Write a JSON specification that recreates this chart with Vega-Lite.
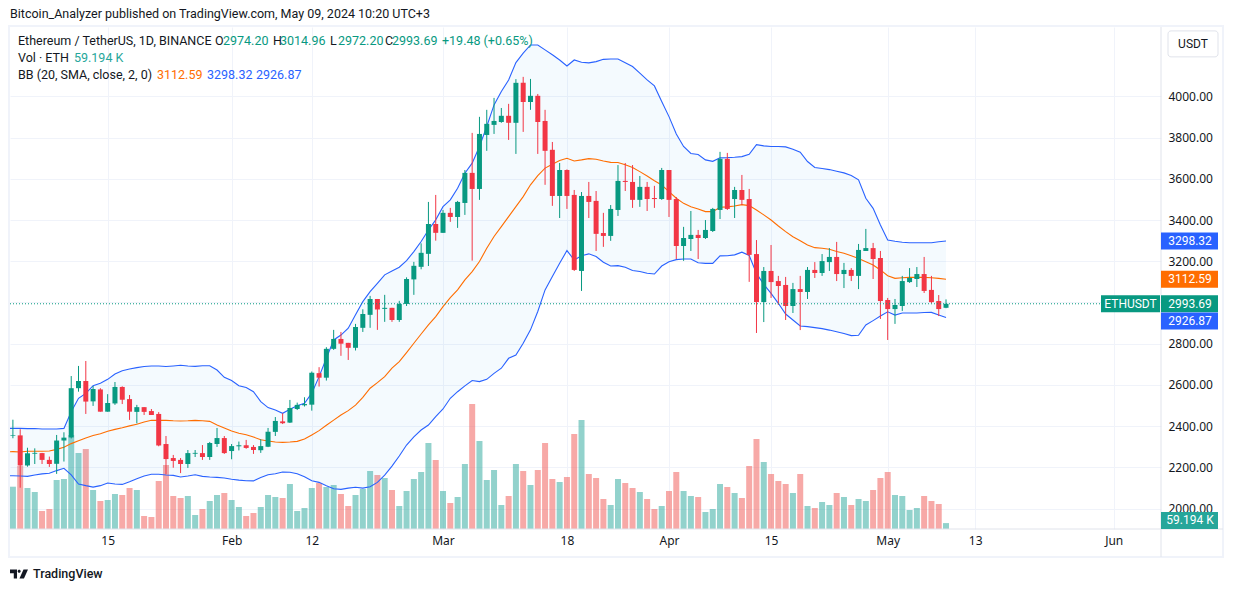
{"$schema":"https://vega.github.io/schema/vega-lite/v6.json","width":1151,"height":502,"autosize":{"type":"none"},"padding":{"left":10,"top":27,"right":72,"bottom":63},"background":"#ffffff","config":{"view":{"stroke":null},"font":"Roboto","text":{"font":"Roboto"},"scale":{"continuousPadding":0}},
"datasets":{"days":[
{"d":"2024-01-01","u":2389,"m":2275,"b":2160},
{"d":"2024-01-02","o":2352,"h":2431,"l":2341,"c":2355,"v":423,"u":2389,"m":2276,"b":2159},
{"d":"2024-01-03","o":2355,"h":2385,"l":2101,"c":2209,"v":630,"u":2389,"m":2274,"b":2158},
{"d":"2024-01-04","o":2209,"h":2295,"l":2203,"c":2268,"v":410,"u":2388,"m":2278,"b":2156},
{"d":"2024-01-05","o":2266,"h":2292,"l":2216,"c":2270,"v":370,"u":2388,"m":2278,"b":2163},
{"d":"2024-01-06","o":2269,"h":2270,"l":2216,"c":2236,"v":180,"u":2386,"m":2278,"b":2168},
{"d":"2024-01-07","o":2236,"h":2252,"l":2202,"c":2216,"v":200,"u":2386,"m":2279,"b":2171},
{"d":"2024-01-08","o":2217,"h":2357,"l":2168,"c":2330,"v":490,"u":2386,"m":2287,"b":2184},
{"d":"2024-01-09","o":2330,"h":2370,"l":2228,"c":2344,"v":500,"u":2389,"m":2297,"b":2195},
{"d":"2024-01-10","o":2345,"h":2643,"l":2340,"c":2584,"v":940,"u":2470,"m":2315,"b":2163},
{"d":"2024-01-11","o":2584,"h":2692,"l":2567,"c":2619,"v":760,"u":2535,"m":2329,"b":2119},
{"d":"2024-01-12","o":2619,"h":2716,"l":2459,"c":2519,"v":800,"u":2559,"m":2342,"b":2111},
{"d":"2024-01-13","o":2520,"h":2595,"l":2498,"c":2580,"v":390,"u":2596,"m":2354,"b":2104},
{"d":"2024-01-14","o":2578,"h":2584,"l":2470,"c":2470,"v":280,"u":2608,"m":2363,"b":2111},
{"d":"2024-01-15","o":2470,"h":2555,"l":2470,"c":2512,"v":290,"u":2627,"m":2375,"b":2124},
{"d":"2024-01-16","o":2510,"h":2614,"l":2503,"c":2590,"v":350,"u":2653,"m":2384,"b":2119},
{"d":"2024-01-17","o":2590,"h":2593,"l":2507,"c":2528,"v":340,"u":2669,"m":2392,"b":2117},
{"d":"2024-01-18","o":2531,"h":2551,"l":2430,"c":2470,"v":410,"u":2677,"m":2401,"b":2130},
{"d":"2024-01-19","o":2469,"h":2503,"l":2413,"c":2492,"v":390,"u":2684,"m":2409,"b":2145},
{"d":"2024-01-20","o":2492,"h":2492,"l":2454,"c":2469,"v":130,"u":2689,"m":2420,"b":2158},
{"d":"2024-01-21","o":2473,"h":2483,"l":2454,"c":2454,"v":120,"u":2692,"m":2428,"b":2166},
{"d":"2024-01-22","o":2459,"h":2468,"l":2302,"c":2306,"v":480,"u":2692,"m":2428,"b":2166},
{"d":"2024-01-23","o":2313,"h":2352,"l":2166,"c":2240,"v":640,"u":2689,"m":2428,"b":2163},
{"d":"2024-01-24","o":2245,"h":2260,"l":2198,"c":2231,"v":330,"u":2692,"m":2426,"b":2161},
{"d":"2024-01-25","o":2236,"h":2245,"l":2172,"c":2216,"v":310,"u":2695,"m":2425,"b":2153},
{"d":"2024-01-26","o":2216,"h":2284,"l":2197,"c":2269,"v":330,"u":2692,"m":2426,"b":2158},
{"d":"2024-01-27","o":2266,"h":2284,"l":2250,"c":2270,"v":140,"u":2690,"m":2428,"b":2164},
{"d":"2024-01-28","o":2269,"h":2308,"l":2236,"c":2250,"v":200,"u":2693,"m":2426,"b":2156},
{"d":"2024-01-29","o":2250,"h":2323,"l":2236,"c":2318,"v":280,"u":2693,"m":2423,"b":2153},
{"d":"2024-01-30","o":2313,"h":2391,"l":2299,"c":2342,"v":340,"u":2672,"m":2405,"b":2151},
{"d":"2024-01-31","o":2342,"h":2352,"l":2265,"c":2269,"v":360,"u":2637,"m":2391,"b":2148},
{"d":"2024-02-01","o":2279,"h":2313,"l":2239,"c":2303,"v":290,"u":2621,"m":2376,"b":2142},
{"d":"2024-02-02","o":2302,"h":2325,"l":2282,"c":2307,"v":220,"u":2596,"m":2365,"b":2138},
{"d":"2024-02-03","o":2307,"h":2333,"l":2290,"c":2294,"v":130,"u":2587,"m":2358,"b":2135},
{"d":"2024-02-04","o":2299,"h":2308,"l":2265,"c":2284,"v":160,"u":2567,"m":2347,"b":2134},
{"d":"2024-02-05","o":2283,"h":2336,"l":2270,"c":2303,"v":220,"u":2519,"m":2334,"b":2151},
{"d":"2024-02-06","o":2300,"h":2391,"l":2298,"c":2372,"v":340,"u":2490,"m":2328,"b":2164},
{"d":"2024-02-07","o":2372,"h":2444,"l":2352,"c":2425,"v":320,"u":2478,"m":2323,"b":2169},
{"d":"2024-02-08","o":2423,"h":2462,"l":2410,"c":2414,"v":310,"u":2462,"m":2321,"b":2177},
{"d":"2024-02-09","o":2417,"h":2527,"l":2415,"c":2488,"v":450,"u":2482,"m":2323,"b":2176},
{"d":"2024-02-10","o":2483,"h":2514,"l":2478,"c":2503,"v":180,"u":2499,"m":2326,"b":2169},
{"d":"2024-02-11","o":2501,"h":2540,"l":2495,"c":2507,"v":210,"u":2511,"m":2337,"b":2154},
{"d":"2024-02-12","o":2504,"h":2665,"l":2475,"c":2659,"v":410,"u":2560,"m":2357,"b":2135},
{"d":"2024-02-13","o":2657,"h":2686,"l":2592,"c":2635,"v":460,"u":2640,"m":2378,"b":2127},
{"d":"2024-02-14","o":2635,"h":2783,"l":2621,"c":2775,"v":420,"u":2729,"m":2404,"b":2111},
{"d":"2024-02-15","o":2775,"h":2867,"l":2770,"c":2823,"v":440,"u":2818,"m":2429,"b":2096},
{"d":"2024-02-16","o":2823,"h":2857,"l":2741,"c":2800,"v":350,"u":2842,"m":2454,"b":2093},
{"d":"2024-02-17","o":2804,"h":2804,"l":2721,"c":2780,"v":230,"u":2875,"m":2475,"b":2099},
{"d":"2024-02-18","o":2780,"h":2896,"l":2767,"c":2881,"v":340,"u":2940,"m":2502,"b":2103},
{"d":"2024-02-19","o":2877,"h":2967,"l":2857,"c":2944,"v":400,"u":3004,"m":2539,"b":2099},
{"d":"2024-02-20","o":2940,"h":3032,"l":2877,"c":3017,"v":580,"u":3053,"m":2584,"b":2106},
{"d":"2024-02-21","o":3017,"h":3017,"l":2867,"c":2966,"v":540,"u":3093,"m":2611,"b":2127},
{"d":"2024-02-22","o":2969,"h":3037,"l":2906,"c":2974,"v":510,"u":3134,"m":2640,"b":2162},
{"d":"2024-02-23","o":2974,"h":2974,"l":2906,"c":2915,"v":390,"u":3153,"m":2681,"b":2206},
{"d":"2024-02-24","o":2915,"h":3008,"l":2906,"c":2993,"v":230,"u":3171,"m":2713,"b":2255},
{"d":"2024-02-25","o":2993,"h":3122,"l":2983,"c":3114,"v":380,"u":3203,"m":2757,"b":2308},
{"d":"2024-02-26","o":3112,"h":3197,"l":3037,"c":3178,"v":500,"u":3247,"m":2802,"b":2348},
{"d":"2024-02-27","o":3173,"h":3287,"l":3161,"c":3241,"v":570,"u":3296,"m":2847,"b":2381},
{"d":"2024-02-28","o":3236,"h":3488,"l":3177,"c":3381,"v":860,"u":3352,"m":2891,"b":2405},
{"d":"2024-02-29","o":3381,"h":3522,"l":3300,"c":3338,"v":690,"u":3401,"m":2931,"b":2446},
{"d":"2024-03-01","o":3338,"h":3449,"l":3338,"c":3435,"v":380,"u":3465,"m":2980,"b":2483},
{"d":"2024-03-02","o":3435,"h":3459,"l":3391,"c":3415,"v":260,"u":3498,"m":3024,"b":2535},
{"d":"2024-03-03","o":3415,"h":3493,"l":3362,"c":3488,"v":320,"u":3554,"m":3061,"b":2567},
{"d":"2024-03-04","o":3483,"h":3643,"l":3425,"c":3629,"v":650,"u":3627,"m":3110,"b":2595},
{"d":"2024-03-05","o":3629,"h":3823,"l":3203,"c":3551,"v":1250,"u":3676,"m":3150,"b":2621},
{"d":"2024-03-06","o":3551,"h":3901,"l":3498,"c":3818,"v":880,"u":3757,"m":3199,"b":2616},
{"d":"2024-03-07","o":3813,"h":3935,"l":3736,"c":3867,"v":490,"u":3854,"m":3263,"b":2627},
{"d":"2024-03-08","o":3862,"h":3993,"l":3818,"c":3881,"v":590,"u":3959,"m":3320,"b":2656},
{"d":"2024-03-09","o":3876,"h":3944,"l":3872,"c":3906,"v":240,"u":4024,"m":3368,"b":2681},
{"d":"2024-03-10","o":3906,"h":3964,"l":3789,"c":3872,"v":330,"u":4080,"m":3417,"b":2729},
{"d":"2024-03-11","o":3872,"h":4084,"l":3721,"c":4066,"v":650,"u":4164,"m":3465,"b":2745},
{"d":"2024-03-12","o":4066,"h":4095,"l":3828,"c":3973,"v":580,"u":4210,"m":3514,"b":2802},
{"d":"2024-03-13","o":3973,"h":4085,"l":3935,"c":4003,"v":440,"u":4250,"m":3571,"b":2867},
{"d":"2024-03-14","o":4003,"h":4012,"l":3721,"c":3876,"v":590,"u":4250,"m":3616,"b":2956},
{"d":"2024-03-15","o":3881,"h":3935,"l":3571,"c":3736,"v":860,"u":4226,"m":3652,"b":3061},
{"d":"2024-03-16","o":3741,"h":3779,"l":3469,"c":3517,"v":500,"u":4202,"m":3671,"b":3126},
{"d":"2024-03-17","o":3517,"h":3677,"l":3410,"c":3643,"v":470,"u":4177,"m":3689,"b":3190},
{"d":"2024-03-18","o":3643,"h":3646,"l":3454,"c":3517,"v":520,"u":4148,"m":3700,"b":3252},
{"d":"2024-03-19","o":3522,"h":3546,"l":3153,"c":3158,"v":950,"u":4177,"m":3687,"b":3206},
{"d":"2024-03-20","o":3153,"h":3536,"l":3056,"c":3517,"v":1090,"u":4166,"m":3692,"b":3227},
{"d":"2024-03-21","o":3517,"h":3585,"l":3410,"c":3488,"v":550,"u":4163,"m":3698,"b":3236},
{"d":"2024-03-22","o":3493,"h":3541,"l":3250,"c":3333,"v":510,"u":4169,"m":3695,"b":3223},
{"d":"2024-03-23","o":3337,"h":3435,"l":3270,"c":3323,"v":300,"u":4180,"m":3687,"b":3195},
{"d":"2024-03-24","o":3323,"h":3473,"l":3299,"c":3454,"v":240,"u":4182,"m":3680,"b":3177},
{"d":"2024-03-25","o":3449,"h":3667,"l":3420,"c":3590,"v":500,"u":4182,"m":3679,"b":3179},
{"d":"2024-03-26","o":3590,"h":3677,"l":3541,"c":3585,"v":460,"u":4164,"m":3668,"b":3171},
{"d":"2024-03-27","o":3585,"h":3667,"l":3459,"c":3498,"v":410,"u":4145,"m":3655,"b":3155},
{"d":"2024-03-28","o":3498,"h":3614,"l":3464,"c":3561,"v":370,"u":4113,"m":3635,"b":3150},
{"d":"2024-03-29","o":3561,"h":3585,"l":3444,"c":3502,"v":300,"u":4080,"m":3614,"b":3142},
{"d":"2024-03-30","o":3507,"h":3566,"l":3459,"c":3502,"v":200,"u":4051,"m":3591,"b":3138},
{"d":"2024-03-31","o":3502,"h":3653,"l":3498,"c":3643,"v":230,"u":3975,"m":3570,"b":3177},
{"d":"2024-04-01","o":3643,"h":3643,"l":3415,"c":3498,"v":380,"u":3902,"m":3538,"b":3198},
{"d":"2024-04-02","o":3502,"h":3512,"l":3211,"c":3274,"v":570,"u":3818,"m":3506,"b":3208},
{"d":"2024-04-03","o":3274,"h":3367,"l":3202,"c":3313,"v":380,"u":3757,"m":3481,"b":3211},
{"d":"2024-04-04","o":3308,"h":3444,"l":3250,"c":3328,"v":330,"u":3723,"m":3465,"b":3211},
{"d":"2024-04-05","o":3328,"h":3352,"l":3211,"c":3313,"v":320,"u":3718,"m":3454,"b":3193},
{"d":"2024-04-06","o":3313,"h":3400,"l":3308,"c":3352,"v":170,"u":3692,"m":3441,"b":3190},
{"d":"2024-04-07","o":3347,"h":3459,"l":3342,"c":3454,"v":200,"u":3685,"m":3441,"b":3190},
{"d":"2024-04-08","o":3449,"h":3731,"l":3405,"c":3697,"v":450,"u":3702,"m":3462,"b":3226},
{"d":"2024-04-09","o":3697,"h":3726,"l":3449,"c":3454,"v":420,"u":3703,"m":3464,"b":3227},
{"d":"2024-04-10","o":3502,"h":3561,"l":3410,"c":3546,"v":360,"u":3705,"m":3468,"b":3231},
{"d":"2024-04-11","o":3546,"h":3619,"l":3473,"c":3498,"v":310,"u":3708,"m":3475,"b":3244},
{"d":"2024-04-12","o":3502,"h":3551,"l":3100,"c":3231,"v":630,"u":3719,"m":3470,"b":3228},
{"d":"2024-04-13","o":3235,"h":3303,"l":2852,"c":3002,"v":900,"u":3766,"m":3449,"b":3141},
{"d":"2024-04-14","o":3002,"h":3172,"l":2905,"c":3153,"v":670,"u":3760,"m":3425,"b":3088},
{"d":"2024-04-15","o":3153,"h":3279,"l":3022,"c":3099,"v":550,"u":3757,"m":3400,"b":3044},
{"d":"2024-04-16","o":3104,"h":3129,"l":2988,"c":3080,"v":480,"u":3757,"m":3371,"b":2996},
{"d":"2024-04-17","o":3085,"h":3124,"l":2915,"c":2983,"v":450,"u":3755,"m":3344,"b":2944},
{"d":"2024-04-18","o":2983,"h":3095,"l":2949,"c":3065,"v":360,"u":3744,"m":3319,"b":2915},
{"d":"2024-04-19","o":3065,"h":3129,"l":2866,"c":3051,"v":550,"u":3729,"m":3300,"b":2886},
{"d":"2024-04-20","o":3051,"h":3172,"l":3017,"c":3158,"v":230,"u":3684,"m":3279,"b":2883},
{"d":"2024-04-21","o":3158,"h":3196,"l":3119,"c":3143,"v":210,"u":3655,"m":3266,"b":2878},
{"d":"2024-04-22","o":3143,"h":3235,"l":3129,"c":3201,"v":270,"u":3650,"m":3263,"b":2873},
{"d":"2024-04-23","o":3196,"h":3264,"l":3153,"c":3221,"v":240,"u":3645,"m":3258,"b":2866},
{"d":"2024-04-24","o":3221,"h":3294,"l":3104,"c":3138,"v":360,"u":3637,"m":3247,"b":2858},
{"d":"2024-04-25","o":3138,"h":3192,"l":3070,"c":3158,"v":320,"u":3629,"m":3239,"b":2849},
{"d":"2024-04-26","o":3158,"h":3167,"l":3104,"c":3129,"v":240,"u":3616,"m":3227,"b":2839},
{"d":"2024-04-27","o":3129,"h":3284,"l":3065,"c":3255,"v":300,"u":3595,"m":3214,"b":2841},
{"d":"2024-04-28","o":3250,"h":3357,"l":3250,"c":3264,"v":280,"u":3506,"m":3198,"b":2891},
{"d":"2024-04-29","o":3264,"h":3289,"l":3114,"c":3211,"v":390,"u":3457,"m":3182,"b":2912},
{"d":"2024-04-30","o":3216,"h":3250,"l":2920,"c":3007,"v":510,"u":3376,"m":3158,"b":2934},
{"d":"2024-05-01","o":3012,"h":3022,"l":2818,"c":2968,"v":570,"u":3303,"m":3130,"b":2955},
{"d":"2024-05-02","o":2968,"h":3017,"l":2896,"c":2988,"v":340,"u":3297,"m":3117,"b":2939},
{"d":"2024-05-03","o":2983,"h":3129,"l":2959,"c":3104,"v":330,"u":3292,"m":3120,"b":2949},
{"d":"2024-05-04","o":3099,"h":3167,"l":3095,"c":3119,"v":190,"u":3290,"m":3122,"b":2949},
{"d":"2024-05-05","o":3114,"h":3172,"l":3075,"c":3138,"v":210,"u":3290,"m":3122,"b":2949},
{"d":"2024-05-06","o":3138,"h":3221,"l":3046,"c":3056,"v":330,"u":3290,"m":3122,"b":2951},
{"d":"2024-05-07","o":3061,"h":3129,"l":2997,"c":3002,"v":280,"u":3290,"m":3120,"b":2952},
{"d":"2024-05-08","o":3007,"h":3036,"l":2934,"c":2968,"v":250,"u":3295,"m":3117,"b":2939},
{"d":"2024-05-09","o":2974.2,"h":3014.96,"l":2972.2,"c":2993.69,"v":59.194,"u":3298.32,"m":3112.59,"b":2926.87}
],
"tags":[{"t":"3298.32","level":3298.32,"kind":"upper"},{"t":"3112.59","level":3112.59,"kind":"basis"},{"t":"2993.69","level":2993.69,"kind":"last"},{"t":"2926.87","level":2910,"kind":"upper"},{"t":"59.194 K","level":1942,"kind":"volume"}]},
"data":{"name":"days"},
"resolve":{"scale":{"y":"independent"},"axis":{"x":"independent"}},
"layer":[
{"layer":[
{"mark":{"type":"area","clip":true,"color":"#2196f3","opacity":0},"encoding":{"x":{"field":"d","type":"temporal","scale":{"type":"utc","nice":false,"domain":["2024-01-01T14:27:10Z","2024-06-07T11:45:11Z"]},"axis":{"values":[{"year":2024,"month":"jan","date":15,"utc":true},{"year":2024,"month":"feb","date":1,"utc":true},{"year":2024,"month":"feb","date":12,"utc":true},{"year":2024,"month":"mar","date":1,"utc":true},{"year":2024,"month":"mar","date":18,"utc":true},{"year":2024,"month":"apr","date":1,"utc":true},{"year":2024,"month":"apr","date":15,"utc":true},{"year":2024,"month":"may","date":1,"utc":true},{"year":2024,"month":"may","date":13,"utc":true},{"year":2024,"month":"jun","date":1,"utc":true}],"labelExpr":"utcFormat(datum.value,'%-d')=='1'?utcFormat(datum.value,'%b'):utcFormat(datum.value,'%-d')","title":null,"grid":true,"gridColor":"#f0f3fa","gridWidth":1,"domain":false,"ticks":false,"labelFontSize":12,"labelColor":"#131722","labelFont":"Noto Sans","labelPadding":6,"labelOverlap":false,"labelFlush":false}},"y":{"field":"u","type":"quantitative","scale":{"domain":[1900.6,4337],"zero":false,"nice":false},"axis":{"orient":"right","values":[2000,2200,2400,2600,2800,3000,3200,3400,3600,3800,4000],"format":".2f","labelExpr":"datum.value==3000?'':datum.label","title":null,"grid":true,"gridColor":"#f0f3fa","gridWidth":1,"domain":false,"ticks":false,"labelFontSize":12,"labelColor":"#131722","labelFont":"Noto Sans","labelPadding":7}},"y2":{"field":"b"}}}
]},
{"mark":{"type":"bar","size":6},"encoding":{"x":{"field":"d","type":"temporal","scale":{"type":"utc","nice":false,"domain":["2024-01-01T14:27:10Z","2024-06-07T11:45:11Z"]},"axis":null},"y":{"field":"v","type":"quantitative","scale":{"domain":[0,5020],"nice":false},"axis":null},"fill":{"condition":{"test":"datum.c>=datum.o","value":"#26a69a"},"value":"#ef5350"},"opacity":{"value":0.5}}},
{"layer":[
{"mark":{"type":"area","clip":true,"color":"#2196f3","opacity":0.05},"encoding":{"x":{"field":"d","type":"temporal","scale":{"type":"utc","nice":false,"domain":["2024-01-01T14:27:10Z","2024-06-07T11:45:11Z"]},"axis":null},"y":{"field":"u","type":"quantitative","scale":{"domain":[1900.6,4337],"zero":false,"nice":false},"axis":null},"y2":{"field":"b"}}},
{"mark":{"type":"line","clip":true,"color":"#2962ff","strokeWidth":1.1},"encoding":{"x":{"field":"d","type":"temporal","scale":{"type":"utc","nice":false,"domain":["2024-01-01T14:27:10Z","2024-06-07T11:45:11Z"]},"axis":null},"y":{"field":"u","type":"quantitative","scale":{"domain":[1900.6,4337],"zero":false,"nice":false},"axis":null}}},
{"mark":{"type":"line","clip":true,"color":"#2962ff","strokeWidth":1.1},"encoding":{"x":{"field":"d","type":"temporal","scale":{"type":"utc","nice":false,"domain":["2024-01-01T14:27:10Z","2024-06-07T11:45:11Z"]},"axis":null},"y":{"field":"b","type":"quantitative","scale":{"domain":[1900.6,4337],"zero":false,"nice":false},"axis":null}}},
{"mark":{"type":"line","clip":true,"color":"#ff6d00","strokeWidth":1.1},"encoding":{"x":{"field":"d","type":"temporal","scale":{"type":"utc","nice":false,"domain":["2024-01-01T14:27:10Z","2024-06-07T11:45:11Z"]},"axis":null},"y":{"field":"m","type":"quantitative","scale":{"domain":[1900.6,4337],"zero":false,"nice":false},"axis":null}}},
{"mark":{"type":"rule","strokeWidth":1},"encoding":{"x":{"field":"d","type":"temporal","scale":{"type":"utc","nice":false,"domain":["2024-01-01T14:27:10Z","2024-06-07T11:45:11Z"]},"axis":null},"y":{"field":"l","type":"quantitative","scale":{"domain":[1900.6,4337],"zero":false,"nice":false},"axis":null},"y2":{"field":"h"},"color":{"condition":{"test":"datum.c>=datum.o","value":"#089981"},"value":"#f23645"}}},
{"mark":{"type":"bar","size":5},"encoding":{"x":{"field":"d","type":"temporal","scale":{"type":"utc","nice":false,"domain":["2024-01-01T14:27:10Z","2024-06-07T11:45:11Z"]},"axis":null},"y":{"field":"o","type":"quantitative","scale":{"domain":[1900.6,4337],"zero":false,"nice":false},"axis":null},"y2":{"field":"c"},"fill":{"condition":{"test":"datum.c>=datum.o","value":"#089981"},"value":"#f23645"}}},
{"data":{"values":[{"price":2993.69}]},"mark":{"type":"rule","color":"#089981","strokeWidth":1,"strokeDash":[1,2]},"encoding":{"x":{"datum":{"year":2024,"month":"jan","date":1,"hours":14,"minutes":27,"seconds":10,"utc":true},"type":"temporal","scale":{"type":"utc","nice":false,"domain":["2024-01-01T14:27:10Z","2024-06-07T11:45:11Z"]},"axis":null},"x2":{"datum":{"year":2024,"month":"jun","date":7,"hours":11,"minutes":45,"seconds":11,"utc":true}},"y":{"field":"price","type":"quantitative","scale":{"domain":[1900.6,4337],"zero":false,"nice":false},"axis":null}}},
{"data":{"values":[{"n":1}]},"mark":{"type":"rect","fill":"transparent","stroke":"#f0f3fa","strokeWidth":2},"encoding":{"x":{"datum":{"year":2024,"month":"jan","date":1,"hours":11,"minutes":9,"seconds":38,"utc":true},"type":"temporal","scale":{"type":"utc","nice":false,"domain":["2024-01-01T14:27:10Z","2024-06-07T11:45:11Z"]},"axis":null},"x2":{"datum":{"year":2024,"month":"jun","date":15,"hours":23,"minutes":52,"seconds":6,"utc":true}},"y":{"datum":4342,"type":"quantitative","scale":{"domain":[1900.6,4337],"zero":false,"nice":false},"axis":null},"y2":{"datum":1765}}},
{"data":{"values":[{"n":1}]},"mark":{"type":"rule","color":"#e0e3eb","strokeWidth":1},"encoding":{"x":{"datum":{"year":2024,"month":"jan","date":1,"hours":14,"minutes":27,"seconds":10,"utc":true},"type":"temporal","scale":{"type":"utc","nice":false,"domain":["2024-01-01T14:27:10Z","2024-06-07T11:45:11Z"]},"axis":null},"x2":{"datum":{"year":2024,"month":"jun","date":15,"hours":23,"minutes":52,"seconds":6,"utc":true}},"y":{"datum":1900.6,"type":"quantitative","scale":{"domain":[1900.6,4337],"zero":false,"nice":false},"axis":null}}},
{"data":{"values":[{"n":1}]},"mark":{"type":"rule","color":"#e0e3eb","strokeWidth":1},"encoding":{"x":{"datum":{"year":2024,"month":"jun","date":7,"hours":11,"minutes":45,"seconds":11,"utc":true},"type":"temporal","scale":{"type":"utc","nice":false,"domain":["2024-01-01T14:27:10Z","2024-06-07T11:45:11Z"]},"axis":null},"y":{"datum":4337,"type":"quantitative","scale":{"domain":[1900.6,4337],"zero":false,"nice":false},"axis":null},"y2":{"datum":1765}}},
{"data":{"values":[{"n":1}]},"mark":{"type":"rect","fill":"#ffffff","stroke":"#e0e3eb","strokeWidth":1,"cornerRadius":3},"encoding":{"x":{"datum":{"year":2024,"month":"jun","date":8,"hours":10,"minutes":47,"seconds":54,"utc":true},"type":"temporal","scale":{"type":"utc","nice":false,"domain":["2024-01-01T14:27:10Z","2024-06-07T11:45:11Z"]},"axis":null},"x2":{"datum":{"year":2024,"month":"jun","date":15,"hours":7,"minutes":24,"seconds":27,"utc":true}},"y":{"datum":4318,"type":"quantitative","scale":{"domain":[1900.6,4337],"zero":false,"nice":false},"axis":null},"y2":{"datum":4192}}},
{"data":{"values":[{"t":"USDT"}]},"mark":{"type":"text","fontSize":12,"color":"#131722","align":"center","baseline":"middle"},"encoding":{"x":{"datum":{"year":2024,"month":"jun","date":11,"hours":21,"minutes":6,"seconds":11,"utc":true},"type":"temporal","scale":{"type":"utc","nice":false,"domain":["2024-01-01T14:27:10Z","2024-06-07T11:45:11Z"]},"axis":null},"y":{"datum":4255,"type":"quantitative","scale":{"domain":[1900.6,4337],"zero":false,"nice":false},"axis":null},"text":{"field":"t"}}},
{"data":{"name":"tags"},"mark":{"type":"rule","strokeWidth":17},"encoding":{"x":{"datum":{"year":2024,"month":"jun","date":7,"hours":11,"minutes":45,"seconds":11,"utc":true},"type":"temporal","scale":{"type":"utc","nice":false,"domain":["2024-01-01T14:27:10Z","2024-06-07T11:45:11Z"]},"axis":null},"x2":{"datum":{"year":2024,"month":"jun","date":15,"hours":7,"minutes":24,"seconds":27,"utc":true}},"y":{"field":"level","type":"quantitative","scale":{"domain":[1900.6,4337],"zero":false,"nice":false},"axis":null},"color":{"field":"kind","type":"nominal","legend":null,"scale":{"domain":["upper","basis","last","volume"],"range":["#2962ff","#ff6d00","#089981","#26a69a"]}}}},
{"data":{"name":"tags"},"mark":{"type":"text","fontSize":12,"color":"#ffffff","align":"center","baseline":"middle"},"encoding":{"x":{"datum":{"year":2024,"month":"jun","date":11,"hours":11,"minutes":13,"seconds":35,"utc":true},"type":"temporal","scale":{"type":"utc","nice":false,"domain":["2024-01-01T14:27:10Z","2024-06-07T11:45:11Z"]},"axis":null},"y":{"field":"level","type":"quantitative","scale":{"domain":[1900.6,4337],"zero":false,"nice":false},"axis":null},"text":{"field":"t"}}},
{"data":{"values":[{"n":1}]},"mark":{"type":"rule","strokeWidth":17,"color":"#089981"},"encoding":{"x":{"datum":{"year":2024,"month":"may","date":30,"hours":6,"minutes":13,"seconds":20,"utc":true},"type":"temporal","scale":{"type":"utc","nice":false,"domain":["2024-01-01T14:27:10Z","2024-06-07T11:45:11Z"]},"axis":null},"x2":{"datum":{"year":2024,"month":"jun","date":7,"hours":8,"minutes":27,"seconds":39,"utc":true}},"y":{"datum":2993.69,"type":"quantitative","scale":{"domain":[1900.6,4337],"zero":false,"nice":false},"axis":null}}},
{"data":{"values":[{"t":"ETHUSDT"}]},"mark":{"type":"text","fontSize":12,"color":"#ffffff","align":"center","baseline":"middle"},"encoding":{"x":{"datum":{"year":2024,"month":"jun","date":3,"hours":7,"minutes":20,"seconds":30,"utc":true},"type":"temporal","scale":{"type":"utc","nice":false,"domain":["2024-01-01T14:27:10Z","2024-06-07T11:45:11Z"]},"axis":null},"y":{"datum":2993.69,"type":"quantitative","scale":{"domain":[1900.6,4337],"zero":false,"nice":false},"axis":null},"text":{"field":"t"}}},
{"data":{"values":[{"t":"Bitcoin_Analyzer published on TradingView.com, May 09, 2024 10:20 UTC+3"}]},"mark":{"type":"text","fontSize":12.5,"color":"#131722","align":"left","baseline":"middle"},"encoding":{"x":{"datum":{"year":2024,"month":"jan","date":1,"hours":14,"minutes":27,"seconds":10,"utc":true},"type":"temporal","scale":{"type":"utc","nice":false,"domain":["2024-01-01T14:27:10Z","2024-06-07T11:45:11Z"]},"axis":null},"y":{"datum":4400,"type":"quantitative","scale":{"domain":[1900.6,4337],"zero":false,"nice":false},"axis":null},"text":{"field":"t"}}},
{"data":{"values":[{"t":"Ethereum / TetherUS, 1D, BINANCE"}]},"mark":{"type":"text","fontSize":12.5,"color":"#131722","align":"left","baseline":"middle"},"encoding":{"x":{"datum":{"year":2024,"month":"jan","date":2,"hours":16,"minutes":47,"seconds":24,"utc":true},"type":"temporal","scale":{"type":"utc","nice":false,"domain":["2024-01-01T14:27:10Z","2024-06-07T11:45:11Z"]},"axis":null},"y":{"datum":4269,"type":"quantitative","scale":{"domain":[1900.6,4337],"zero":false,"nice":false},"axis":null},"text":{"field":"t"}}},
{"data":{"values":[{"t":"O"}]},"mark":{"type":"text","fontSize":12.5,"color":"#131722","align":"left","baseline":"middle"},"encoding":{"x":{"datum":{"year":2024,"month":"jan","date":29,"hours":17,"minutes":20,"seconds":59,"utc":true},"type":"temporal","scale":{"type":"utc","nice":false,"domain":["2024-01-01T14:27:10Z","2024-06-07T11:45:11Z"]},"axis":null},"y":{"datum":4269,"type":"quantitative","scale":{"domain":[1900.6,4337],"zero":false,"nice":false},"axis":null},"text":{"field":"t"}}},
{"data":{"values":[{"t":"2974.20"}]},"mark":{"type":"text","fontSize":12.5,"color":"#089981","align":"left","baseline":"middle"},"encoding":{"x":{"datum":{"year":2024,"month":"jan","date":30,"hours":19,"minutes":41,"seconds":14,"utc":true},"type":"temporal","scale":{"type":"utc","nice":false,"domain":["2024-01-01T14:27:10Z","2024-06-07T11:45:11Z"]},"axis":null},"y":{"datum":4269,"type":"quantitative","scale":{"domain":[1900.6,4337],"zero":false,"nice":false},"axis":null},"text":{"field":"t"}}},
{"data":{"values":[{"t":"H"}]},"mark":{"type":"text","fontSize":12.5,"color":"#131722","align":"left","baseline":"middle"},"encoding":{"x":{"datum":{"year":2024,"month":"feb","date":6,"hours":16,"minutes":17,"seconds":47,"utc":true},"type":"temporal","scale":{"type":"utc","nice":false,"domain":["2024-01-01T14:27:10Z","2024-06-07T11:45:11Z"]},"axis":null},"y":{"datum":4269,"type":"quantitative","scale":{"domain":[1900.6,4337],"zero":false,"nice":false},"axis":null},"text":{"field":"t"}}},
{"data":{"values":[{"t":"3014.96"}]},"mark":{"type":"text","fontSize":12.5,"color":"#089981","align":"left","baseline":"middle"},"encoding":{"x":{"datum":{"year":2024,"month":"feb","date":7,"hours":15,"minutes":20,"seconds":30,"utc":true},"type":"temporal","scale":{"type":"utc","nice":false,"domain":["2024-01-01T14:27:10Z","2024-06-07T11:45:11Z"]},"axis":null},"y":{"datum":4269,"type":"quantitative","scale":{"domain":[1900.6,4337],"zero":false,"nice":false},"axis":null},"text":{"field":"t"}}},
{"data":{"values":[{"t":"L"}]},"mark":{"type":"text","fontSize":12.5,"color":"#131722","align":"left","baseline":"middle"},"encoding":{"x":{"datum":{"year":2024,"month":"feb","date":14,"hours":11,"minutes":57,"seconds":2,"utc":true},"type":"temporal","scale":{"type":"utc","nice":false,"domain":["2024-01-01T14:27:10Z","2024-06-07T11:45:11Z"]},"axis":null},"y":{"datum":4269,"type":"quantitative","scale":{"domain":[1900.6,4337],"zero":false,"nice":false},"axis":null},"text":{"field":"t"}}},
{"data":{"values":[{"t":"2972.20"}]},"mark":{"type":"text","fontSize":12.5,"color":"#089981","align":"left","baseline":"middle"},"encoding":{"x":{"datum":{"year":2024,"month":"feb","date":15,"hours":14,"minutes":17,"seconds":17,"utc":true},"type":"temporal","scale":{"type":"utc","nice":false,"domain":["2024-01-01T14:27:10Z","2024-06-07T11:45:11Z"]},"axis":null},"y":{"datum":4269,"type":"quantitative","scale":{"domain":[1900.6,4337],"zero":false,"nice":false},"axis":null},"text":{"field":"t"}}},
{"data":{"values":[{"t":"C"}]},"mark":{"type":"text","fontSize":12.5,"color":"#131722","align":"left","baseline":"middle"},"encoding":{"x":{"datum":{"year":2024,"month":"feb","date":22,"hours":1,"minutes":1,"seconds":14,"utc":true},"type":"temporal","scale":{"type":"utc","nice":false,"domain":["2024-01-01T14:27:10Z","2024-06-07T11:45:11Z"]},"axis":null},"y":{"datum":4269,"type":"quantitative","scale":{"domain":[1900.6,4337],"zero":false,"nice":false},"axis":null},"text":{"field":"t"}}},
{"data":{"values":[{"t":"2993.69"}]},"mark":{"type":"text","fontSize":12.5,"color":"#089981","align":"left","baseline":"middle"},"encoding":{"x":{"datum":{"year":2024,"month":"feb","date":23,"hours":0,"minutes":3,"seconds":57,"utc":true},"type":"temporal","scale":{"type":"utc","nice":false,"domain":["2024-01-01T14:27:10Z","2024-06-07T11:45:11Z"]},"axis":null},"y":{"datum":4269,"type":"quantitative","scale":{"domain":[1900.6,4337],"zero":false,"nice":false},"axis":null},"text":{"field":"t"}}},
{"data":{"values":[{"t":"+19.48 (+0.65%)"}]},"mark":{"type":"text","fontSize":12.5,"color":"#089981","align":"left","baseline":"middle"},"encoding":{"x":{"datum":{"year":2024,"month":"feb","date":29,"hours":20,"minutes":40,"seconds":30,"utc":true},"type":"temporal","scale":{"type":"utc","nice":false,"domain":["2024-01-01T14:27:10Z","2024-06-07T11:45:11Z"]},"axis":null},"y":{"datum":4269,"type":"quantitative","scale":{"domain":[1900.6,4337],"zero":false,"nice":false},"axis":null},"text":{"field":"t"}}},
{"data":{"values":[{"t":"Vol · ETH"}]},"mark":{"type":"text","fontSize":12.5,"color":"#131722","align":"left","baseline":"middle"},"encoding":{"x":{"datum":{"year":2024,"month":"jan","date":2,"hours":16,"minutes":47,"seconds":24,"utc":true},"type":"temporal","scale":{"type":"utc","nice":false,"domain":["2024-01-01T14:27:10Z","2024-06-07T11:45:11Z"]},"axis":null},"y":{"datum":4187,"type":"quantitative","scale":{"domain":[1900.6,4337],"zero":false,"nice":false},"axis":null},"text":{"field":"t"}}},
{"data":{"values":[{"t":"59.194 K"}]},"mark":{"type":"text","fontSize":12.5,"color":"#26a69a","align":"left","baseline":"middle"},"encoding":{"x":{"datum":{"year":2024,"month":"jan","date":10,"hours":9,"minutes":9,"seconds":8,"utc":true},"type":"temporal","scale":{"type":"utc","nice":false,"domain":["2024-01-01T14:27:10Z","2024-06-07T11:45:11Z"]},"axis":null},"y":{"datum":4187,"type":"quantitative","scale":{"domain":[1900.6,4337],"zero":false,"nice":false},"axis":null},"text":{"field":"t"}}},
{"data":{"values":[{"t":"BB (20, SMA, close, 2, 0)"}]},"mark":{"type":"text","fontSize":12.5,"color":"#131722","align":"left","baseline":"middle"},"encoding":{"x":{"datum":{"year":2024,"month":"jan","date":2,"hours":16,"minutes":47,"seconds":24,"utc":true},"type":"temporal","scale":{"type":"utc","nice":false,"domain":["2024-01-01T14:27:10Z","2024-06-07T11:45:11Z"]},"axis":null},"y":{"datum":4104,"type":"quantitative","scale":{"domain":[1900.6,4337],"zero":false,"nice":false},"axis":null},"text":{"field":"t"}}},
{"data":{"values":[{"t":"3112.59"}]},"mark":{"type":"text","fontSize":12.5,"color":"#ff6d00","align":"left","baseline":"middle"},"encoding":{"x":{"datum":{"year":2024,"month":"jan","date":21,"hours":18,"minutes":24,"seconds":12,"utc":true},"type":"temporal","scale":{"type":"utc","nice":false,"domain":["2024-01-01T14:27:10Z","2024-06-07T11:45:11Z"]},"axis":null},"y":{"datum":4104,"type":"quantitative","scale":{"domain":[1900.6,4337],"zero":false,"nice":false},"axis":null},"text":{"field":"t"}}},
{"data":{"values":[{"t":"3298.32"}]},"mark":{"type":"text","fontSize":12.5,"color":"#2962ff","align":"left","baseline":"middle"},"encoding":{"x":{"datum":{"year":2024,"month":"jan","date":28,"hours":15,"minutes":0,"seconds":44,"utc":true},"type":"temporal","scale":{"type":"utc","nice":false,"domain":["2024-01-01T14:27:10Z","2024-06-07T11:45:11Z"]},"axis":null},"y":{"datum":4104,"type":"quantitative","scale":{"domain":[1900.6,4337],"zero":false,"nice":false},"axis":null},"text":{"field":"t"}}},
{"data":{"values":[{"t":"2926.87"}]},"mark":{"type":"text","fontSize":12.5,"color":"#2962ff","align":"left","baseline":"middle"},"encoding":{"x":{"datum":{"year":2024,"month":"feb","date":4,"hours":8,"minutes":19,"seconds":45,"utc":true},"type":"temporal","scale":{"type":"utc","nice":false,"domain":["2024-01-01T14:27:10Z","2024-06-07T11:45:11Z"]},"axis":null},"y":{"datum":4104,"type":"quantitative","scale":{"domain":[1900.6,4337],"zero":false,"nice":false},"axis":null},"text":{"field":"t"}}},
{"data":{"values":[{"n":1}]},"mark":{"type":"point","filled":true,"color":"#131722","opacity":1,"size":324,"strokeWidth":0,"shape":"M-1,-0.5H-0.22V0.5H-0.58V-0.1H-1Z M0.5,-0.5H1L0.55,0.5H0.05Z M0.19,-0.3A0.17,0.17 0 1 1 -0.15,-0.3A0.17,0.17 0 1 1 0.19,-0.3Z"},"encoding":{"x":{"datum":{"year":2024,"month":"jan","date":2,"hours":20,"minutes":4,"seconds":56,"utc":true},"type":"temporal","scale":{"type":"utc","nice":false,"domain":["2024-01-01T14:27:10Z","2024-06-07T11:45:11Z"]},"axis":null},"y":{"datum":1682,"type":"quantitative","scale":{"domain":[1900.6,4337],"zero":false,"nice":false},"axis":null}}},
{"data":{"values":[{"t":"TradingView"}]},"mark":{"type":"text","fontSize":12.5,"fontWeight":500,"color":"#131722","align":"left","baseline":"middle"},"encoding":{"x":{"datum":{"year":2024,"month":"jan","date":4,"hours":18,"minutes":10,"seconds":22,"utc":true},"type":"temporal","scale":{"type":"utc","nice":false,"domain":["2024-01-01T14:27:10Z","2024-06-07T11:45:11Z"]},"axis":null},"y":{"datum":1682,"type":"quantitative","scale":{"domain":[1900.6,4337],"zero":false,"nice":false},"axis":null},"text":{"field":"t"}}}
]}
]}
